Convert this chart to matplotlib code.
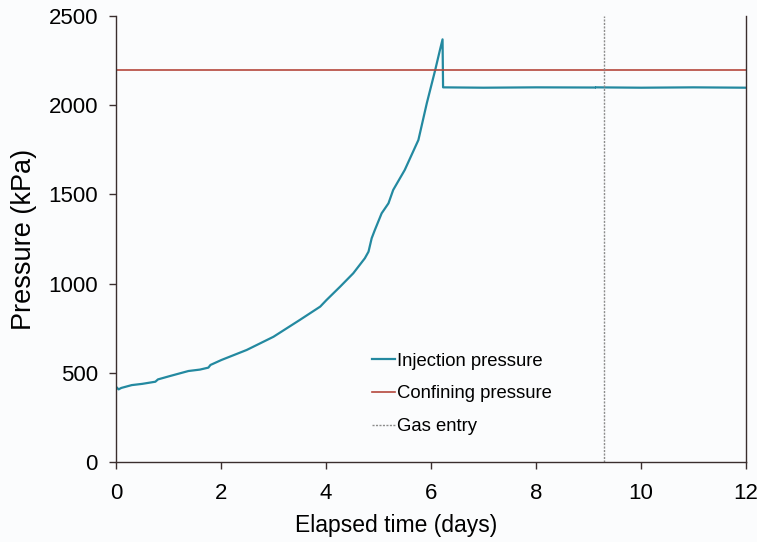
import numpy as np
import matplotlib
matplotlib.use('Agg')
import matplotlib.pyplot as plt

plt.rcParams['font.family'] = ['Liberation Sans', 'DejaVu Sans']

# injection pressure (kPa) vs elapsed time (days)
t_inj = [0.00, 0.05, 0.10, 0.30, 0.50, 0.75, 0.80, 1.03, 1.38, 1.60, 1.76, 1.80,
         2.01, 2.49, 3.00, 3.50, 3.89, 4.01, 4.27, 4.52, 4.74, 4.81, 4.87, 4.93,
         5.06, 5.19, 5.28, 5.50, 5.76, 5.92, 6.08, 6.17, 6.22, 6.23,
         7.00, 8.00, 9.12, np.nan, 9.15, 10.00, 11.00, 12.00]
p_inj = [422, 407, 415, 431, 438, 450, 463, 482, 510, 518, 529, 544,
         572, 628, 702, 796, 871, 908, 983, 1058, 1142, 1179, 1254, 1300,
         1394, 1450, 1525, 1637, 1805, 2011, 2197, 2309, 2369, 2100,
         2098, 2100, 2099, np.nan, 2100, 2098, 2100, 2098]

t_conf = [0, 12]
p_conf = [2200, 2200]

gas_entry = 9.3

fig = plt.figure(figsize=(7.57, 5.42), dpi=100)
fig.patch.set_facecolor('#fbfcfd')
ax = fig.add_axes([0.1532, 0.1476, 0.8323, 0.8229])
ax.set_facecolor('#fbfcfd')

ax.plot(t_inj, p_inj, color='#2389a0', lw=1.6, label='Injection pressure')
ax.plot(t_conf, p_conf, color='#b5473c', lw=1.2, label='Confining pressure')
ax.axvline(gas_entry, color='#8c8c8c', lw=1.0, ls=(0, (1.5, 1)), label='Gas entry')

ax.set_xlim(0, 12)
ax.set_ylim(0, 2500)
ax.set_xticks(range(0, 13, 2))
ax.set_yticks(range(0, 2501, 500))

ax.spines['top'].set_visible(False)
for s in ['left', 'bottom', 'right']:
    ax.spines[s].set_color('#3a2e2e')
    ax.spines[s].set_linewidth(1.0)

ax.tick_params(axis='both', direction='out', length=5, width=1, color='#3a2e2e',
               labelsize=16)
ax.tick_params(axis='x', pad=10)
ax.tick_params(axis='y', pad=8, right=False)

ax.set_xlabel('Elapsed time (days)', fontsize=16.5)
ax.xaxis.set_label_coords(0.444, -0.117)
ax.set_ylabel('Pressure (kPa)', fontsize=19.5, labelpad=8)

leg = ax.legend(loc='upper left', bbox_to_anchor=(0.407, 0.245), frameon=False,
                fontsize=13.3, handlelength=1.25, handletextpad=0.1,
                labelspacing=0.85, borderpad=0, borderaxespad=0)

fig.savefig('out.png', dpi=100, facecolor=fig.get_facecolor())
